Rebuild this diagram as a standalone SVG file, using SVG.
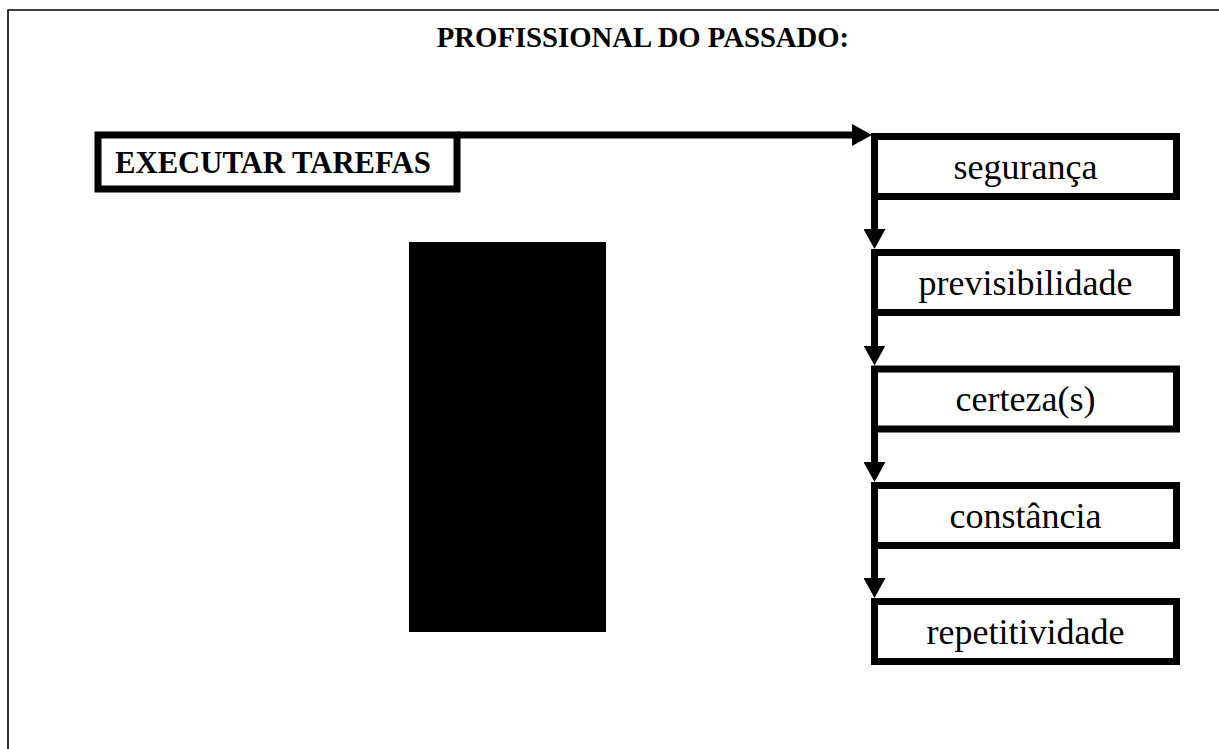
<svg xmlns="http://www.w3.org/2000/svg" width="1219" height="749" viewBox="0 0 1219 749">
  <style>
    .box { fill: #fff; stroke: #000; stroke-width: 7; }
    .conn { fill: none; stroke: #000; stroke-width: 7; }
    .lbl { font-family: "Liberation Serif", "Times New Roman", serif; font-size: 36px; fill: #000; text-anchor: middle; }
    .bold { font-family: "Liberation Serif", "Times New Roman", serif; font-weight: bold; fill: #000; }
  </style>
  <defs>
    <marker id="arrow" viewBox="0 0 20 22" refX="3" refY="11" markerWidth="20" markerHeight="22" markerUnits="userSpaceOnUse" orient="auto">
      <path d="M0,0 L20,11 L0,22 z" fill="#000"/>
    </marker>
  </defs>
  <rect x="0" y="0" width="1219" height="749" fill="#fff"/>
  <path d="M8,749 L8,10 L1219,10" fill="none" stroke="#000" stroke-width="1.6"/>

  <text class="bold" x="643" y="47" font-size="28.7" text-anchor="middle">PROFISSIONAL DO PASSADO:</text>

  <rect id="black-block" x="409" y="242" width="197" height="390" fill="#000"/>

  <g id="connectors">
    <path class="conn" d="M457,135 L855,135" marker-end="url(#arrow)"/>
    <path class="conn" d="M874.5,196.5 L874.5,232" marker-end="url(#arrow)"/>
    <path class="conn" d="M874.5,312.5 L874.5,348.5" marker-end="url(#arrow)"/>
    <path class="conn" d="M874.5,429 L874.5,465" marker-end="url(#arrow)"/>
    <path class="conn" d="M874.5,545.5 L874.5,581" marker-end="url(#arrow)"/>
  </g>

  <g id="executar">
    <rect class="box" x="98" y="135" width="359" height="54"/>
    <text class="bold" x="115" y="173" font-size="30.7">EXECUTAR TAREFAS</text>
  </g>
  <g id="seguranca">
    <rect class="box" x="874.5" y="136.5" width="302" height="60"/>
    <text class="lbl" x="1025.5" y="178.5">segurança</text>
  </g>
  <g id="previsibilidade">
    <rect class="box" x="874.5" y="252.5" width="302" height="60"/>
    <text class="lbl" x="1025.5" y="294.5">previsibilidade</text>
  </g>
  <g id="certeza">
    <rect class="box" x="874.5" y="369" width="302" height="60"/>
    <text class="lbl" x="1025.5" y="410.5">certeza(s)</text>
  </g>
  <g id="constancia">
    <rect class="box" x="874.5" y="485.5" width="302" height="60"/>
    <text class="lbl" x="1025.5" y="527.5">constância</text>
  </g>
  <g id="repetitividade">
    <rect class="box" x="874.5" y="601.5" width="302" height="60"/>
    <text class="lbl" x="1025.5" y="643.5">repetitividade</text>
  </g>
</svg>
